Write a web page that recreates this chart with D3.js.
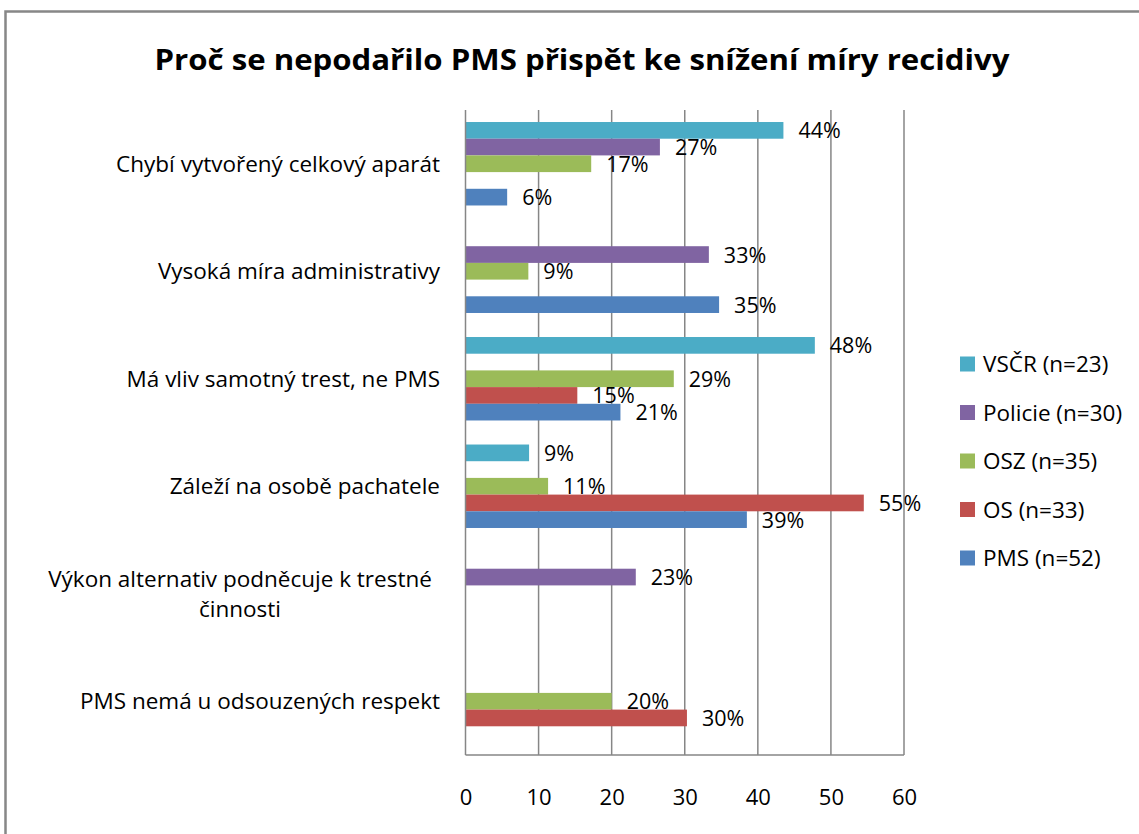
<!DOCTYPE html>
<html><head><meta charset="utf-8">
<script src="https://cdn.jsdelivr.net/npm/d3@7"></script>
<style>html,body{margin:0;padding:0;background:#fff;}svg{display:block;}</style>
</head><body>
<svg id="chart" width="1139" height="834"></svg>
<script>
const title = "Proč se nepodařilo PMS přispět ke snížení míry recidivy";
const categories = [
  ["Chybí vytvořený celkový aparát"],
  ["Vysoká míra administrativy"],
  ["Má vliv samotný trest, ne PMS"],
  ["Záleží na osobě pachatele"],
  ["Výkon alternativ podněcuje k trestné", "činnosti"],
  ["PMS nemá u odsouzených respekt"]
];
const seriesNames = ["VSČR (n=23)", "Policie (n=30)", "OSZ (n=35)", "OS (n=33)", "PMS (n=52)"];
const seriesColors = ["#4BACC6", "#8064A2", "#9BBB59", "#C0504D", "#4F81BD"];
// values per series, in category order (null = no bar)
const vscr    = [43.5, null, 47.8, 8.7, null, null];
const policie = [26.6, 33.3, null, null, 23.3, null];
const osz     = [17.2, 8.6, 28.5, 11.3, null, 20.0];
const os      = [null, null, 15.3, 54.5, null, 30.3];
const pms     = [5.7, 34.7, 21.2, 38.5, null, null];
const xTicks = [0, 10, 20, 30, 40, 50, 60];

(function () {
const seriesValues = [vscr, policie, osz, os, pms];
const svg = d3.select("#chart");
const FONT = "'Open Sans', 'Liberation Sans', sans-serif";

// outer frame
svg.append("rect").attr("x", 5.5).attr("y", 11.5).attr("width", 1300).attr("height", 1000)
  .attr("fill", "none").attr("stroke", "#878787").attr("stroke-width", 2.5);

svg.append("text").attr("x", 582).attr("y", 70).attr("text-anchor", "middle")
  .attr("font-family", FONT).attr("font-weight", "bold").attr("font-size", 29)
  .attr("textLength", 855).attr("lengthAdjust", "spacingAndGlyphs")
  .attr("fill", "#000").text(title);

const pL = 465.5, pR = 904, pT = 110, pB = 755;
const x = d3.scaleLinear().domain([0, 60]).range([pL, pR]);
const catKeys = categories.map((c, i) => i);
const y0 = d3.scaleBand().domain(catKeys).range([pT, pB]).padding(0);
const y1 = d3.scaleBand().domain(d3.range(seriesNames.length)).range([0, y0.bandwidth()]).paddingInner(0).paddingOuter(0.72);

// gridlines
svg.append("g").selectAll("line").data(xTicks.filter(t => t > 0)).join("line")
  .attr("x1", d => x(d)).attr("x2", d => x(d)).attr("y1", pT).attr("y2", pB)
  .attr("stroke", "#868686").attr("stroke-width", 1.5);

// bars
const barData = [];
seriesValues.forEach((vals, s) => vals.forEach((v, c) => { if (v != null) barData.push({s, c, v}); }));
svg.append("g").selectAll("rect").data(barData).join("rect")
  .attr("x", x(0)).attr("y", d => y0(d.c) + y1(d.s))
  .attr("width", d => x(d.v) - x(0)).attr("height", y1.bandwidth())
  .attr("fill", d => seriesColors[d.s]);

// data labels
svg.append("g").selectAll("text").data(barData).join("text")
  .attr("x", d => x(d.v) + 15).attr("y", d => y0(d.c) + y1(d.s) + y1.bandwidth() / 2 + 8)
  .attr("font-family", FONT).attr("font-size", 21.5).attr("fill", "#000")
  .text(d => Math.round(d.v) + "%");

// axes lines
svg.append("line").attr("x1", pL).attr("x2", pL).attr("y1", pT).attr("y2", pB)
  .attr("stroke", "#868686").attr("stroke-width", 1.5);
svg.append("line").attr("x1", pL).attr("x2", pR).attr("y1", pB).attr("y2", pB)
  .attr("stroke", "#868686").attr("stroke-width", 1.5);

// x tick labels
const xAxis = d3.axisBottom(x).tickValues(xTicks).tickSize(0).tickPadding(0);
const gx = svg.append("g").attr("transform", `translate(0,${pB + 50})`).call(xAxis);
gx.select(".domain").remove();
gx.selectAll("text").attr("font-family", FONT).attr("font-size", 22).attr("fill", "#000").attr("dy", 0);

// category labels
const cat = svg.append("g").selectAll("text").data(categories).join("text")
  .attr("font-family", FONT).attr("font-size", 22.5).attr("fill", "#000");
cat.each(function(lines, i) {
  const t = d3.select(this);
  const cy = y0(i) + y0.bandwidth() / 2;
  const lh = 30;
  const startY = cy - (lines.length - 1) * lh / 2 + 8;
  if (lines.length === 1) {
    t.attr("text-anchor", "end").append("tspan").attr("x", 440).attr("y", startY).text(lines[0]);
  } else {
    t.attr("text-anchor", "middle");
    lines.forEach((l, k) => t.append("tspan").attr("x", 240).attr("y", startY + k * lh).text(l));
  }
});

// legend
const lg = svg.append("g").selectAll("g").data(seriesNames).join("g")
  .attr("transform", (d, i) => `translate(960,${364 + i * 48.5})`);
lg.append("rect").attr("x", 0).attr("y", -7.5).attr("width", 15).attr("height", 15)
  .attr("fill", (d, i) => seriesColors[i]);
lg.append("text").attr("x", 23).attr("y", 8).attr("font-family", FONT).attr("font-size", 22.5)
  .attr("fill", "#000").text(d => d);
})();
</script>
</body></html>
